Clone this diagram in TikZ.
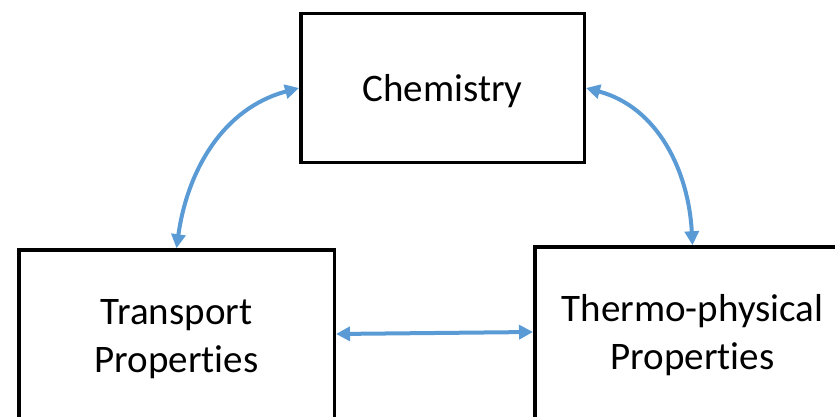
\documentclass[tikz,border=0pt]{standalone}
\usepackage{fontspec}
\setmainfont[RawFeature={-liga;-clig;-dlig;-calt}]{Carlito}
\usetikzlibrary{arrows.meta}
\definecolor{linkblue}{RGB}{91,155,213}
\tikzset{
  box/.style={draw=black, line width=3.5pt, fill=white, inner sep=0pt},
  txt/.style={align=center, inner sep=0pt,
    font=\fontsize{39pt}{48pt}\selectfont},
  link/.style={draw=linkblue, line width=4pt,
    {Triangle[length=14pt,width=14pt]}-{Triangle[length=14pt,width=14pt]}}
}
\begin{document}
\begin{tikzpicture}[x=1pt,y=-1pt]
\useasboundingbox (0,0) rectangle (835,417);
\node[box, minimum width=283.5pt, minimum height=148.5pt] (chem) at (442.5,88) {};
\node[box, minimum width=315.5pt, minimum height=172pt] (trans) at (176.5,336) {};
\node[box, minimum width=315.5pt, minimum height=174pt] (thermo) at (692.5,334) {};
\node[txt] (chemT) at ([yshift=-3pt]chem.center) {Chemistry};
\node[txt] (transT) at ([yshift=-3pt]trans.center) {Transport\\Propert\kern0pt ies};
\node[txt] (thermoT) at ([yshift=-1pt]thermo.center) {Thermo-physical\\Propert\kern0pt ies};
\coordinate (tE) at ([yshift=2pt]trans.east);
\coordinate (hW) at ([yshift=2pt]thermo.west);
\draw[link] (chem.west) to[out=195,in=82] (trans.north);
\draw[link] (chem.east) to[out=-15,in=93] (thermo.north);
\draw[link] (tE) -- (hW);
\end{tikzpicture}
\end{document}
